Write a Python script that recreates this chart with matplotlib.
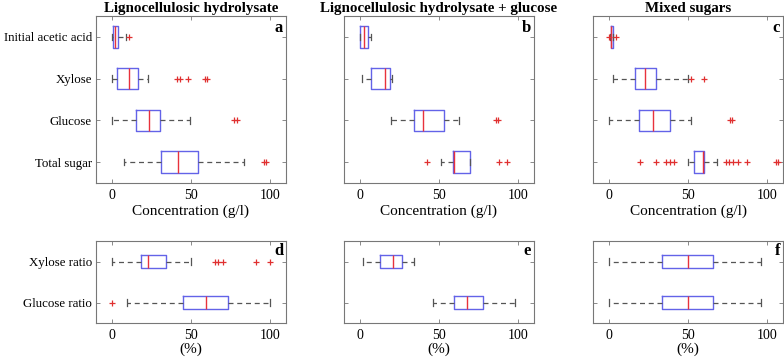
import matplotlib
matplotlib.use("Agg")
import matplotlib.pyplot as plt

plt.rcParams['font.family'] = ['Liberation Serif', 'DejaVu Serif']

conc_labels = ["Initial acetic acid", "Xylose", "Glucose", "Total sugar"]
ratio_labels = ["Xylose ratio", "Glucose ratio"]
col_titles = ["Lignocellulosic hydrolysate", "Lignocellulosic hydrolysate + glucose", "Mixed sugars"]
panel_letters_top = ["a", "b", "c"]
panel_letters_bot = ["d", "e", "f"]
x_ticks = [0, 50, 100]

# Panel a
a_low = [0, 0, 0, 7.4]
a_q1 = [0.6, 3.2, 15.3, 30.9]
a_med = [2.2, 11.1, 23.7, 41.8]
a_q3 = [4.2, 16.8, 30.5, 54.4]
a_high = [8.9, 22.7, 49.4, 83.6]
a_fliers = [[11.1], [41.4, 43.1, 48.3, 58.6, 60.3], [77.3, 78.8], [95.8, 97.1]]

# Panel b
b_low = [0, 1.5, 19.5, 51.3]
b_q1 = [0.3, 7.1, 34.0, 58.8]
b_med = [2.5, 15.8, 39.9, 59.7]
b_q3 = [5.0, 19.1, 52.9, 69.3]
b_high = [7.0, 20.4, 62.6, 69.3]
b_fliers = [[], [], [85.9, 87.2], [42.2, 87.8, 93.1]]

# Panel c
c_low = [0.8, 2.5, 0, 50.3]
c_q1 = [1.2, 16.5, 19.0, 53.7]
c_med = [1.5, 22.8, 28.0, 59.5]
c_q3 = [2.6, 29.9, 38.5, 59.9]
c_high = [2.8, 49.8, 51.9, 68.0]
c_fliers = [[0.2, 4.3], [51.9, 59.8], [76.6, 77.8],
            [19.7, 29.9, 36.4, 38.9, 41.0, 74.0, 76.1, 78.2, 81.3, 87.0, 105.5, 107.1]]

# Panel d
d_low = [0, 9.5]
d_q1 = [18.5, 45.2]
d_med = [23.1, 59.2]
d_q3 = [34.0, 73.1]
d_high = [50.0, 100.0]
d_fliers = [[65.1, 67.0, 70.2, 91.0, 100.2], [0]]

# Panel e
e_low = [1.9, 46.2]
e_q1 = [12.6, 59.7]
e_med = [21.2, 67.4]
e_q3 = [26.7, 77.7]
e_high = [34.2, 98.3]
e_fliers = [[], []]

# Panel f
f_low = [0, 0]
f_q1 = [33.5, 33.5]
f_med = [50, 50]
f_q3 = [65.5, 65.5]
f_high = [96.2, 96.2]
f_fliers = [[], []]

BOX = '#6363e8'
MED = '#e8323c'
WHISK = '#555555'
SPINE = '#777777'


def stats(low, q1, med, q3, high, fliers):
    return [dict(whislo=l, q1=a, med=m, q3=b, whishi=h, fliers=f)
            for l, a, m, b, h, f in zip(low, q1, med, q3, high, fliers)]


def draw(ax, st, labels, width, show_labels, letter):
    n = len(st)
    pos = list(range(1, n + 1))
    kw = dict(positions=pos, widths=width, capwidths=0.16,
              boxprops=dict(color=BOX, linewidth=1.0),
              medianprops=dict(color=MED, linewidth=1.0),
              whiskerprops=dict(color=WHISK, linewidth=0.9, linestyle=(0, (4, 3))),
              capprops=dict(color=WHISK, linewidth=0.9),
              flierprops=dict(marker='+', markeredgecolor='#e03030', markersize=5,
                              markeredgewidth=0.9, linestyle='none'))
    try:
        ax.bxp(st, orientation='horizontal', **kw)
    except TypeError:
        ax.bxp(st, vert=False, **kw)
    ax.set_ylim(n + 0.5, 0.5)
    ax.set_xlim(-10, 110)
    ax.set_xticks(x_ticks)
    ax.set_xticklabels([str(t) for t in x_ticks], fontsize=10)
    ax.set_yticks(pos)
    if show_labels:
        ax.set_yticklabels(labels, fontsize=9.3)
    else:
        ax.set_yticklabels([])
    ax.tick_params(direction='in', top=True, right=True, length=3, width=0.6,
                   color=SPINE, pad=4)
    ax.tick_params(axis='y', pad=3)
    for s in ax.spines.values():
        s.set_color(SPINE)
        s.set_linewidth(0.8)
    ax.text(0.985, 0.975, letter, transform=ax.transAxes, ha='right', va='top',
            fontsize=12, fontweight='bold')


fig = plt.figure(figsize=(7.84, 3.6), dpi=100)
lefts = [96 / 784, 344 / 784, 593 / 784]
w = 190 / 784
top_b, top_h = 1 - 183 / 360, 167 / 360
bot_b, bot_h = 1 - 323 / 360, 82 / 360

top_data = [
    stats(a_low, a_q1, a_med, a_q3, a_high, a_fliers),
    stats(b_low, b_q1, b_med, b_q3, b_high, b_fliers),
    stats(c_low, c_q1, c_med, c_q3, c_high, c_fliers),
]
bot_data = [
    stats(d_low, d_q1, d_med, d_q3, d_high, d_fliers),
    stats(e_low, e_q1, e_med, e_q3, e_high, e_fliers),
    stats(f_low, f_q1, f_med, f_q3, f_high, f_fliers),
]

for i in range(3):
    ax = fig.add_axes([lefts[i], top_b, w, top_h])
    draw(ax, top_data[i], conc_labels, 0.52, i == 0, panel_letters_top[i])
    ax.set_xlabel("Concentration (g/l)", fontsize=11, labelpad=2)
    ax.set_title(col_titles[i], fontsize=10.8, fontweight='bold', pad=3)

    ax2 = fig.add_axes([lefts[i], bot_b, w, bot_h])
    draw(ax2, bot_data[i], ratio_labels, 0.3, i == 0, panel_letters_bot[i])
    ax2.set_xlabel("(%)", fontsize=11, labelpad=1)

fig.savefig("out.png", dpi=100)
